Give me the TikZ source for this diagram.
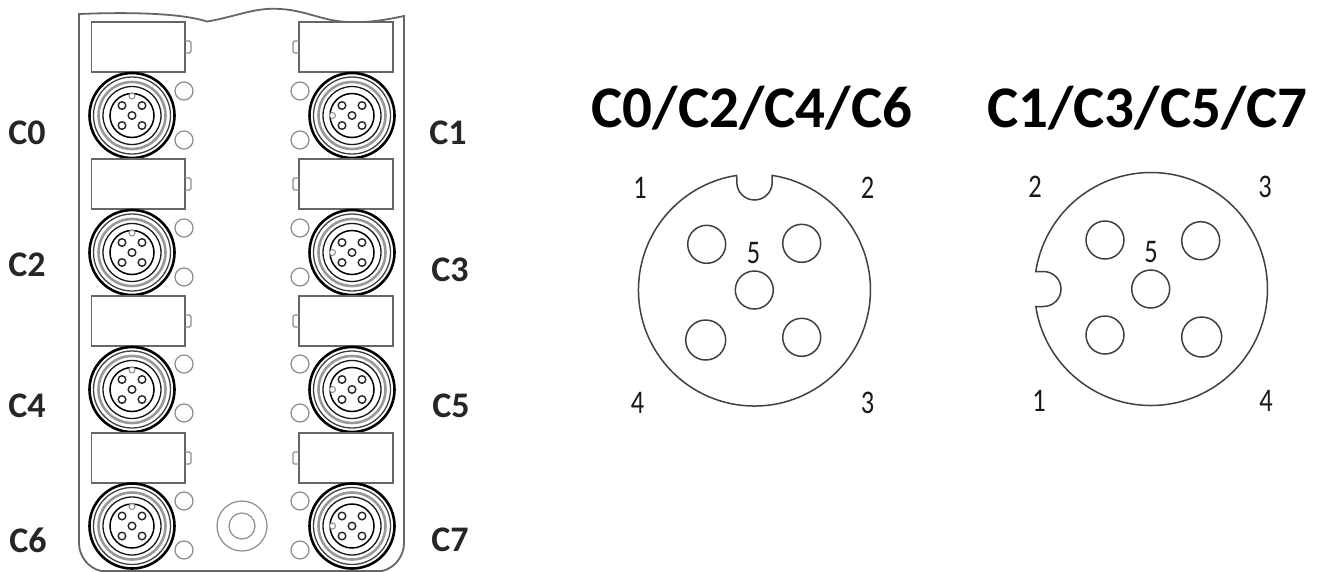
\documentclass[tikz,border=0pt]{standalone}
\usepackage{fontspec}
\setmainfont{Carlito}
\tikzset{
  px/.style={x=1pt,y=-1pt},
  housing/.style={draw=black!60,line width=1.8pt},
  labelbox/.style={draw=black!60,line width=1.3pt},
  led/.style={draw=black!45,line width=1.2pt},
  ink/.style={draw=black!75,line width=1.5pt},
  conn/.style={font=\bfseries\fontsize{36}{36}\selectfont,text=black!85,inner sep=0pt},
  headline/.style={font=\bfseries\fontsize{59}{59}\selectfont,text=black,inner sep=0pt},
  pinnum/.style={font=\fontsize{33}{33}\selectfont,text=black!90,inner sep=0pt,xscale=.8,transform shape},
}
\newcommand{\portbody}[2]{%
  \begin{scope}[shift={(#1,#2)}]
    \draw[draw=black,line width=2.6pt] (0,0) circle (42.5);
    \draw[draw=black!75,line width=1.3pt] (0,0) circle (38.5);
    \draw[draw=black!40,line width=2.6pt] (0,0) circle (33.5);
    \draw[draw=black!90,line width=1.3pt] (0,0) circle (29);
    \draw[draw=black,line width=1.5pt] (0,0) circle (22);
    \foreach \pa/\pb in {-10/-10,10/-10,0/0,-10/10,10/10}
      \draw[draw=black!85,line width=1.4pt] (\pa,\pb) circle (3.8);
  \end{scope}}
\begin{document}
\begin{tikzpicture}[px]
\useasboundingbox (0,0) rectangle (1317,571);
% housing
\draw[housing] (79,14) .. controls (130,12) and (180,13) .. (207,21.5)
  .. controls (235,17) and (255,7) .. (280,9)
  .. controls (305,10) and (325,22) .. (350,22)
  .. controls (370,23) and (390,19) .. (404,16) -- (404,543)
  .. controls (404,556) and (395,568) .. (382,571) -- (101,571)
  .. controls (88,568) and (79,556) .. (79,543) -- cycle;
% rows of label boxes, tabs, ports and LEDs
\foreach \boxtop/\porty/\ledu/\ledd in {22/115.5/91/140,159/252.5/228/277,296/389.5/364/413,433/526/501/550}{
  \draw[labelbox,fill=white] (91.5,\boxtop) rectangle (185,\boxtop+50);
  \draw[labelbox,fill=white] (299,\boxtop) rectangle (393,\boxtop+50);
  \draw[led,rounded corners=1.5pt] (185,\boxtop+19) -- (191,\boxtop+19) -- (191,\boxtop+31) -- (185,\boxtop+31);
  \draw[led,rounded corners=1.5pt] (299,\boxtop+19) -- (293,\boxtop+19) -- (293,\boxtop+31) -- (299,\boxtop+31);
  \foreach \lx in {184,300}{
    \draw[led] (\lx,\ledu) circle (9);
    \draw[led] (\lx,\ledd) circle (9);
  }
  \portbody{132}{\porty}
  \portbody{352}{\porty}
  % keys of the small connectors
  \draw[draw=black!45,line width=1pt,fill=white] (132,\porty-19.5) circle (3);
  \draw[draw=black!45,line width=1pt,fill=white] (332.5,\porty) circle (3);
}
% washer
\draw[led] (242,526) circle (25);
\draw[led] (242,526) circle (13);
% port labels
\node[conn] (c0) at (27,133) {C0};
\node[conn] (c1) at (448,133) {C1};
\node[conn] (c2) at (27,265) {C2};
\node[conn] (c3) at (450,270) {C3};
\node[conn] (c4) at (27,406) {C4};
\node[conn] (c5) at (451,406) {C5};
\node[conn] (c6) at (28,540) {C6};
\node[conn] (c7) at (450,540) {C7};
% titles
\node[headline] (tl) at (752,108) {C0/C2/C4/C6};
\node[headline] (tr) at (1147.5,108) {C1/C3/C5/C7};
% left pinout
\draw[ink] (772.2,175.4) arc[start angle=-81.2,end angle=261.2,radius=116]
  -- (736.8,182.3) arc[start angle=180,end angle=0,radius=17.7] -- cycle;
\foreach \qx/\qy/\qr in {706.7/244.3/19,801.7/243.3/19,754.3/290/19,705.7/340/20,801.7/337.3/19}
  \draw[ink] (\qx,\qy) circle (\qr);
\node[pinnum] (l1) at (640,188) {1};
\node[pinnum] (l2) at (867.5,188) {2};
\node[pinnum] (l3) at (867.5,403) {3};
\node[pinnum] (l4) at (637.5,403) {4};
\node[pinnum] (l5) at (753.5,253) {5};
% right pinout
\draw[ink] (1035.8,306.5) arc[start angle=171.36,end angle=-171.36,radius=116.5]
  -- (1043.5,271.5) arc[start angle=-90,end angle=90,radius=17.5] -- cycle;
\foreach \qx/\qy/\qr in {1105/240/19,1200.7/240.7/19,1150.7/289/19,1105/335/19,1201.7/337/20}
  \draw[ink] (\qx,\qy) circle (\qr);
\node[pinnum] (r1) at (1039,401) {1};
\node[pinnum] (r2) at (1035,187) {2};
\node[pinnum] (r3) at (1265,187) {3};
\node[pinnum] (r4) at (1266,401) {4};
\node[pinnum] (r5) at (1151,252) {5};
\end{tikzpicture}
\end{document}
